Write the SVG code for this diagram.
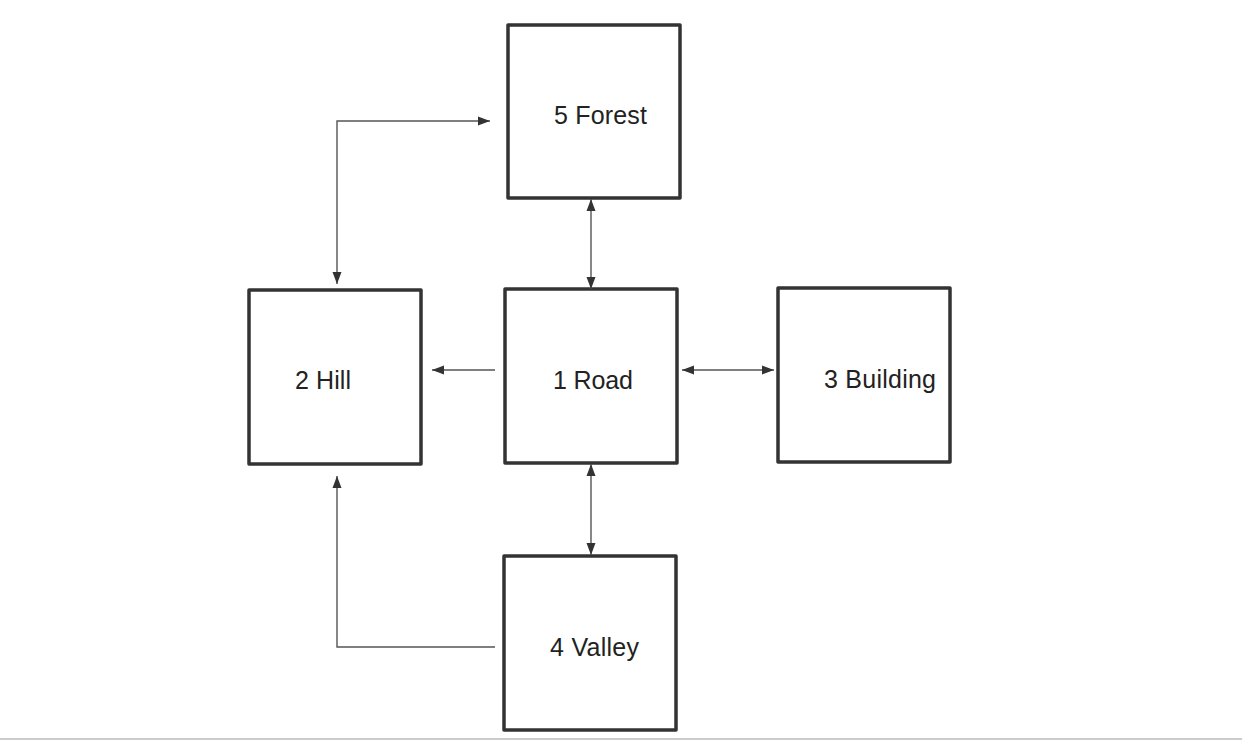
<svg xmlns="http://www.w3.org/2000/svg" width="1242" height="740" viewBox="0 0 1242 740">
<style>
.box{fill:#fff;stroke:#333;stroke-width:3.5;stroke-linejoin:round}
.lbl{font-family:"Liberation Sans",Arial,sans-serif;font-size:25px;fill:#222}
.edge{fill:none;stroke:#555;stroke-width:1.4}
</style>
<defs>
<marker id="ah" viewBox="0 0 12 10" refX="12" refY="5" markerWidth="12" markerHeight="10" markerUnits="userSpaceOnUse" orient="auto-start-reverse">
<path d="M0,0.5 L12,5 L0,9.5 Z" fill="#333"/>
</marker>
</defs>
<rect width="1242" height="740" fill="#fff"/>
<line x1="0" y1="739" x2="1242" y2="739" stroke="#ccc" stroke-width="2"/>
<g id="n5"><rect class="box" x="508" y="25" width="172" height="173"/><text class="lbl" x="554" y="124" textLength="93">5 Forest</text></g>
<g id="n2"><rect class="box" x="249" y="290" width="172" height="174"/><text class="lbl" x="295" y="389" textLength="56">2 Hill</text></g>
<g id="n1"><rect class="box" x="505" y="289" width="172" height="174"/><text class="lbl" x="553" y="389" textLength="80">1 Road</text></g>
<g id="n3"><rect class="box" x="778" y="288" width="172" height="174"/><text class="lbl" x="824" y="388" textLength="112">3 Building</text></g>
<g id="n4"><rect class="box" x="504" y="556" width="172" height="174"/><text class="lbl" x="550" y="656" textLength="89">4 Valley</text></g>
<g id="edges">
<path class="edge" d="M337,284 L337,121 L490,121" marker-start="url(#ah)" marker-end="url(#ah)"/>
<path class="edge" d="M495,370 L432,370" marker-end="url(#ah)"/>
<path class="edge" d="M682,370 L774,370" marker-start="url(#ah)" marker-end="url(#ah)"/>
<path class="edge" d="M591,199 L591,289" marker-start="url(#ah)" marker-end="url(#ah)"/>
<path class="edge" d="M591,464 L591,555" marker-start="url(#ah)" marker-end="url(#ah)"/>
<path class="edge" d="M495,647 L337,647 L337,476" marker-end="url(#ah)"/>
</g>
</svg>
